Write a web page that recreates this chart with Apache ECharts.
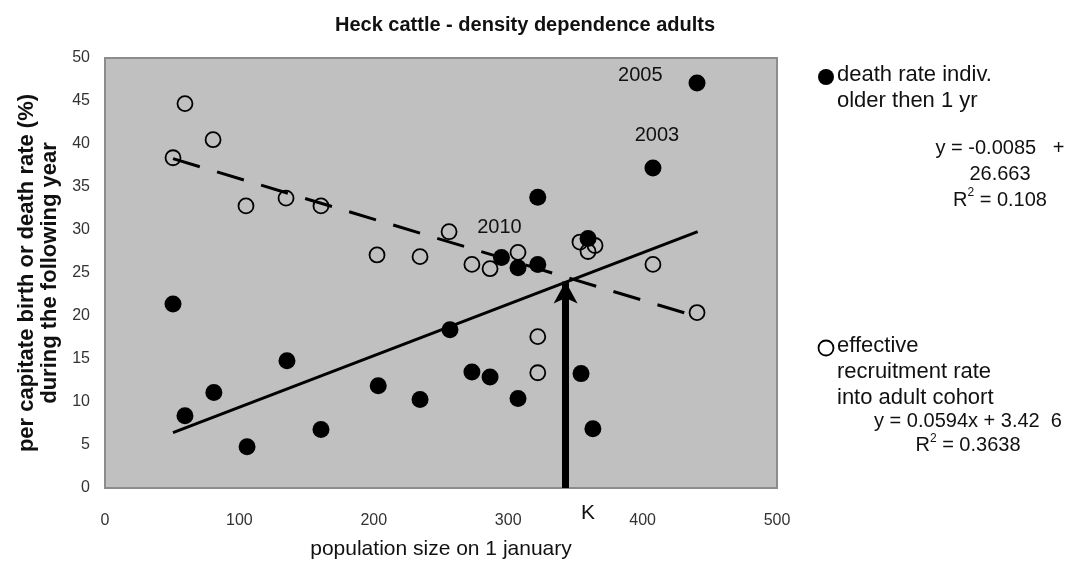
<!DOCTYPE html>
<html><head><meta charset="utf-8">
<script src="https://cdn.jsdelivr.net/npm/echarts@6/dist/echarts.min.js"></script>
<style>html,body{margin:0;padding:0;background:#fff}#c{width:1074px;height:565px}</style>
</head><body><div id="c"></div>
<script>
// population size (x) and death rate of individuals older than 1 yr (y, %)
const deathX = [50.6, 59.5, 81.0, 105.7, 135.4, 160.7, 203.3, 234.4, 256.7, 273.0, 286.5, 295.0, 307.3, 307.3, 322.0, 322.0, 354.2, 359.4, 363.0, 407.7, 440.5];
const deathY = [21.4, 8.4, 11.1, 4.8, 14.8, 6.8, 11.9, 10.3, 18.4, 13.5, 12.9, 26.8, 25.6, 10.4, 26.0, 33.8, 13.3, 29.0, 6.9, 37.2, 47.1];
// effective recruitment rate into adult cohort
const recruitX = [50.6, 59.5, 80.4, 104.9, 134.7, 160.7, 202.4, 234.4, 256.0, 273.0, 286.5, 307.3, 322.0, 322.0, 353.4, 359.4, 364.6, 407.7, 440.5];
const recruitY = [38.4, 44.7, 40.5, 32.8, 33.7, 32.8, 27.1, 26.9, 29.8, 26.0, 25.5, 27.4, 17.6, 13.4, 28.6, 27.5, 28.2, 26.0, 20.4];
// trend lines (endpoints)
const solidTrendX = [50.6, 441];
const solidTrendY = [6.45, 29.8];
const dashedTrendX = [50.6, 441];
const dashedTrendY = [38.3, 19.9];
// year annotations: index into death series
const yearIdx = [20, 19, 11];
const yearText = ['2005', '2003', '2010'];
// carrying capacity arrow
const kX = 342.7;
const kYfrom = 0, kYto = 24.0;
const xTicks = [0, 100, 200, 300, 400, 500];
const yTicks = [0, 5, 10, 15, 20, 25, 30, 35, 40, 45, 50];

const FONT = '"Liberation Sans", Arial, sans-serif';
const chart = echarts.init(document.getElementById('c'), null, {renderer: 'canvas'});

const yearLabelStyle = [
  {position: 'left', distance: 12, offset: [-14, -7]},
  {position: 'top', distance: 14, offset: [4, 0]},
  {position: 'top', distance: 12, offset: [-2, 0]}
];
const deathData = deathX.map((x, i) => {
  const k = yearIdx.indexOf(i);
  const item = {value: [x, deathY[i]]};
  if (k >= 0) {
    item.label = Object.assign({show: true, formatter: yearText[k], color: '#111', fontSize: 20, fontFamily: FONT}, yearLabelStyle[k]);
  }
  return item;
});

const option = {
  backgroundColor: '#fff',
  animation: false,
  title: {
    text: 'Heck cattle - density dependence adults',
    left: 520, top: 10, textAlign: 'center',
    textStyle: {fontFamily: FONT, fontSize: 20, fontWeight: 'bold', color: '#111'}
  },
  grid: {
    left: 105, right: 297, top: 58, bottom: 74,
    show: true, backgroundColor: '#c0c0c0', borderColor: '#8c8c8c', borderWidth: 2
  },
  xAxis: {
    type: 'value', min: xTicks[0], max: xTicks[xTicks.length - 1], interval: 100,
    axisLine: {show: false}, axisTick: {show: false}, splitLine: {show: false},
    axisLabel: {fontFamily: FONT, fontSize: 16, color: '#333', margin: 25},
    name: 'population size on 1 january', nameLocation: 'middle', nameGap: 51,
    nameTextStyle: {fontFamily: FONT, fontSize: 21, color: '#111'}
  },
  yAxis: {
    type: 'value', min: yTicks[0], max: yTicks[yTicks.length - 1], interval: 5,
    axisLine: {show: false}, axisTick: {show: false}, splitLine: {show: false},
    axisLabel: {fontFamily: FONT, fontSize: 16, color: '#333', margin: 15},
    name: 'per capitate birth or death rate (%)\nduring the following year',
    nameLocation: 'middle', nameGap: 43, nameRotate: 90,
    nameTextStyle: {fontFamily: FONT, fontSize: 22, fontWeight: 'bold', color: '#111', lineHeight: 23}
  },
  series: [
    {
      type: 'line', data: solidTrendX.map((x, i) => [x, solidTrendY[i]]),
      symbol: 'none', lineStyle: {color: '#000', width: 3}, silent: true, z: 2
    },
    {
      type: 'line', data: dashedTrendX.map((x, i) => [x, dashedTrendY[i]]),
      symbol: 'none', lineStyle: {color: '#000', width: 3, type: [28, 18]}, silent: true, z: 2
    },
    {
      name: 'effective recruitment rate into adult cohort',
      type: 'scatter', data: recruitX.map((x, i) => [x, recruitY[i]]),
      symbol: 'circle', symbolSize: 15,
      itemStyle: {color: 'rgba(0,0,0,0)', borderColor: '#000', borderWidth: 1.8, opacity: 1}, z: 3
    },
    {
      name: 'death rate indiv. older then 1 yr',
      type: 'scatter', data: deathData,
      symbol: 'circle', symbolSize: 17,
      itemStyle: {color: '#000', opacity: 1}, z: 4,
      markLine: {
        silent: true, symbol: ['none', 'arrow'], symbolSize: [18, 22],
        lineStyle: {color: '#000', width: 7, type: 'solid', opacity: 1},
        label: {show: false},
        data: [[{coord: [kX, kYfrom]}, {coord: [kX, kYto]}]]
      }
    }
  ],
  graphic: [
    {type: 'text', left: 581, top: 503, style: {text: 'K', font: '21px ' + FONT, fill: '#111'}},
    {type: 'circle', shape: {cx: 826, cy: 77, r: 8}, style: {fill: '#000'}},
    {type: 'text', left: 837, top: 62, style: {text: 'death rate indiv.\nolder then 1 yr', font: '22px ' + FONT, fill: '#111', lineHeight: 26}},
    {type: 'text', x: 1000, y: 135, style: {text: 'y = -0.0085   +\n26.663\n{r|R}{s|2}{r| = 0.108}', align: 'center', font: '20px ' + FONT, fill: '#111', lineHeight: 26,
      rich: {r: {fontSize: 20, fontFamily: FONT}, s: {fontSize: 12, fontFamily: FONT, verticalAlign: 'top', padding: [0,0,9,0]}}}},
    {type: 'circle', shape: {cx: 826, cy: 348, r: 7.5}, style: {fill: 'none', stroke: '#000', lineWidth: 1.8}},
    {type: 'text', left: 837, top: 333, style: {text: 'effective\nrecruitment rate\ninto adult cohort', font: '22px ' + FONT, fill: '#111', lineHeight: 26}},
    {type: 'text', x: 968, y: 409, style: {text: 'y = 0.0594x + 3.42  6\n{r|R}{s|2}{r| = 0.3638}', align: 'center', font: '20px ' + FONT, fill: '#111', lineHeight: 24,
      rich: {r: {fontSize: 20, fontFamily: FONT}, s: {fontSize: 12, fontFamily: FONT, verticalAlign: 'top', padding: [0,0,9,0]}}}}
  ]
};
chart.setOption(option);
</script>
</body></html>
